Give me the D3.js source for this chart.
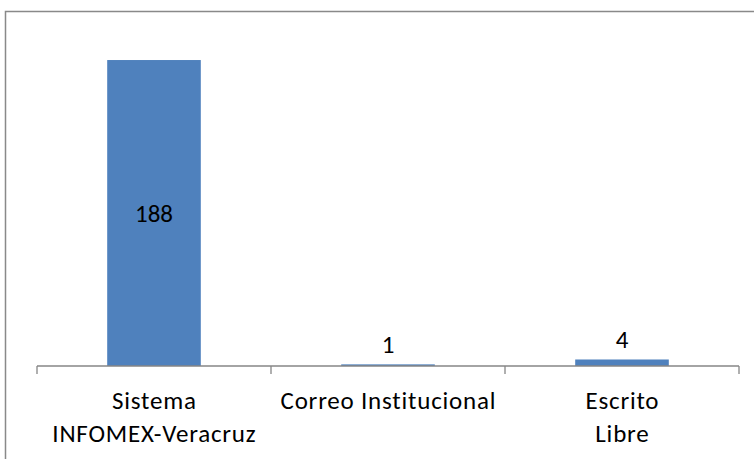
<!DOCTYPE html>
<html lang="es">
<head>
    <meta charset="UTF-8">
    <title>Solicitudes por medio de recepción</title>
    <script src="https://cdnjs.cloudflare.com/ajax/libs/d3/7.8.5/d3.min.js"></script>
    <style>
        body {
            margin: 0;
            background-color: white;
        }
        #chart text {
            font-family: Carlito, Calibri, "Open Sans", sans-serif;
            fill: #000;
        }
    </style>
</head>
<body>
    <div id="chart"></div>

    <script>
        // datos
        const categories = ["Sistema INFOMEX-Veracruz", "Correo Institucional", "Escrito Libre"];
        const categoryLines = [["Sistema", "INFOMEX-Veracruz"], ["Correo Institucional"], ["Escrito", "Libre"]];
        const values = [188, 1, 4];
        const yDomain = [0, 200];

        const width = 754, height = 459;
        const plot = {left: 37, right: 739, top: 40.5, bottom: 366};

        const svg = d3.select("#chart")
            .append("svg")
            .attr("width", width)
            .attr("height", height);

        // marco del área del gráfico
        svg.append("path")
            .attr("d", `M5.5,${height + 2}V11.5H${width + 2}`)
            .attr("fill", "none")
            .attr("stroke", "#898989")
            .attr("stroke-width", 1.5);

        const x = d3.scaleBand()
            .domain(categories)
            .range([plot.left, plot.right])
            .paddingInner(0.6)
            .paddingOuter(0.3);

        const y = d3.scaleLinear()
            .domain(yDomain)
            .range([plot.bottom, plot.top]);

        // barras
        svg.selectAll("rect.bar")
            .data(values)
            .enter()
            .append("rect")
            .attr("class", "bar")
            .attr("x", (d, i) => x(categories[i]))
            .attr("y", d => y(d))
            .attr("width", x.bandwidth())
            .attr("height", d => y(0) - y(d))
            .attr("fill", "#4F81BD");

        // eje x con marcas entre categorías
        const step = (plot.right - plot.left) / categories.length;
        const axis = svg.append("g").attr("stroke", "#868686").attr("stroke-width", 1.3);
        axis.append("line")
            .attr("x1", plot.left).attr("x2", plot.right)
            .attr("y1", y(0)).attr("y2", y(0));
        axis.selectAll("line.tick")
            .data(d3.range(categories.length + 1))
            .enter()
            .append("line")
            .attr("class", "tick")
            .attr("x1", i => plot.left + i * step)
            .attr("x2", i => plot.left + i * step)
            .attr("y1", y(0))
            .attr("y2", y(0) + 8);

        // etiquetas de categoría
        const labels = svg.selectAll("text.cat")
            .data(categories)
            .enter()
            .append("text")
            .attr("class", "cat")
            .attr("text-anchor", "middle")
            .attr("font-size", "25px")
            .attr("letter-spacing", "0.8px")
            .attr("y", 409);
        labels.each(function(d, i) {
            const t = d3.select(this);
            categoryLines[i].forEach((line, j) => {
                t.append("tspan")
                    .attr("x", x(d) + x.bandwidth() / 2 + 0.4)
                    .attr("dy", j === 0 ? 0 : 33)
                    .text(line);
            });
        });

        // etiquetas de datos
        svg.selectAll("text.val")
            .data(values)
            .enter()
            .append("text")
            .attr("class", "val")
            .attr("text-anchor", "middle")
            .attr("font-size", "25px")
            .attr("x", (d, i) => x(categories[i]) + x.bandwidth() / 2)
            .attr("y", d => d > 50 ? (y(d) + y(0)) / 2 + 9 : y(d) - 11)
            .text(d => d);
    </script>
</body>
</html>
